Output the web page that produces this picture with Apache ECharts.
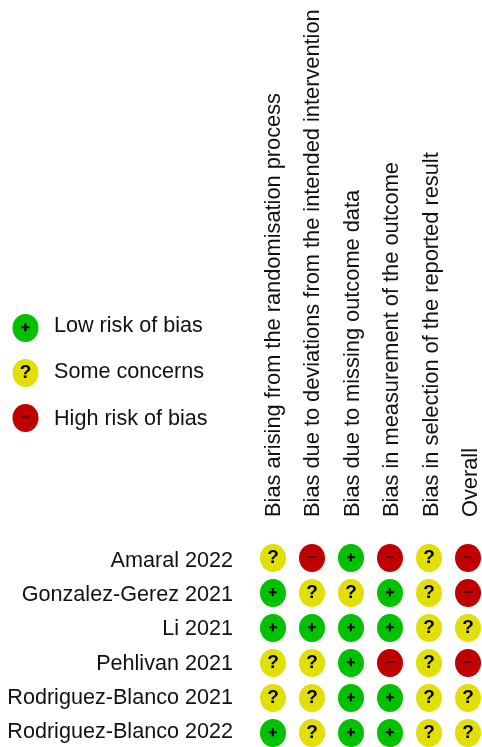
<!DOCTYPE html>
<html><head><meta charset="utf-8">
<style>html,body{margin:0;padding:0;background:#fff}#c{width:482px;height:747px}</style>
<script src="https://cdn.jsdelivr.net/npm/echarts@6/dist/echarts.min.js"></script>
</head><body><div id="c"></div>
<script>
const domains = ["Bias arising from the randomisation process","Bias due to deviations from the intended intervention","Bias due to missing outcome data","Bias in measurement of the outcome","Bias in selection of the reported result","Overall"];
const studies = ["Amaral 2022","Gonzalez-Gerez 2021","Li 2021","Pehlivan 2021","Rodriguez-Blanco 2021","Rodriguez-Blanco 2022"];
const amaral = ["S","H","L","H","S","H"];
const gonzalez = ["L","S","S","L","S","H"];
const li = ["L","L","L","L","S","S"];
const pehlivan = ["S","S","L","H","S","H"];
const rodriguez2021 = ["S","S","L","L","S","S"];
const rodriguez2022 = ["L","S","L","L","S","S"];
const judgements = [amaral,gonzalez,li,pehlivan,rodriguez2021,rodriguez2022];
const legendLabels = ["Low risk of bias","Some concerns","High risk of bias"];
const legendCodes = ["L","S","H"];
const colors = {L:"#02C100",S:"#E2DF07",H:"#BF0000"};
const glyphs = {L:"+",S:"?",H:"−"};
const FONT = "Liberation Sans";
const FS = 21.6;
const cells = [];
judgements.forEach((row,r)=>row.forEach((c,d)=>cells.push({value:[d,r],code:c,itemStyle:{color:colors[c],opacity:1}})));
const glyphLabel = {show:true,position:"inside",
  formatter:p=>"{"+p.data.code+"|"+glyphs[p.data.code]+"}",
  rich:{
    L:{fontFamily:FONT,fontWeight:"bold",fontSize:15,color:"#000",textBorderColor:"#000",textBorderWidth:0.5},
    S:{fontFamily:FONT,fontWeight:"bold",fontSize:19,color:"#000"},
    H:{fontFamily:FONT,fontWeight:"bold",fontSize:15,color:"#300"}
  }};
const hidden = {axisLine:{show:false},axisTick:{show:false},splitLine:{show:false}};
const text = {interval:0,fontFamily:FONT,color:"#111",hideOverlap:false,showMinLabel:true,showMaxLabel:true};
const chart = echarts.init(document.getElementById("c"),null,{renderer:"canvas"});
chart.setOption({
  animation:false,
  backgroundColor:"#fff",
  grid:[
    {left:273,width:195,top:558,height:175},   // marks
    {left:25,width:1,top:328,height:90},       // key marks
    {left:274,width:197,top:517,height:1},     // domain labels
    {left:233,width:1,top:561,height:171},     // study labels
    {left:54,width:1,top:326,height:93}        // key labels
  ],
  xAxis:[
    {gridIndex:0,type:"category",data:domains,show:false,boundaryGap:false},
    {gridIndex:1,type:"category",data:["key"],show:false,boundaryGap:false},
    {gridIndex:2,type:"category",data:domains,position:"top",boundaryGap:false,...hidden,
     axisLabel:{...text,rotate:-90,margin:0,fontSize:21.8}},
    {gridIndex:3,type:"category",data:["key"],show:false,boundaryGap:false},
    {gridIndex:4,type:"category",data:["key"],show:false,boundaryGap:false}
  ],
  yAxis:[
    {gridIndex:0,type:"category",data:studies,inverse:true,show:false,boundaryGap:false},
    {gridIndex:1,type:"category",data:legendLabels,inverse:true,show:false,boundaryGap:false},
    {gridIndex:2,type:"category",data:["key"],show:false,boundaryGap:false},
    {gridIndex:3,type:"category",data:studies,inverse:true,boundaryGap:false,...hidden,
     axisLabel:{...text,margin:0,fontSize:FS}},
    {gridIndex:4,type:"category",data:legendLabels,inverse:true,boundaryGap:false,...hidden,
     axisLabel:{...text,margin:0,align:"left",inside:true,fontSize:FS}}
  ],
  series:[
    {type:"scatter",xAxisIndex:0,yAxisIndex:0,symbol:"circle",symbolSize:[26,28],data:cells,label:glyphLabel,clip:false,silent:true},
    {type:"scatter",xAxisIndex:1,yAxisIndex:1,symbol:"circle",symbolSize:[26,28],clip:false,silent:true,label:glyphLabel,
     data:legendCodes.map((c,i)=>({value:[0,i],code:c,itemStyle:{color:colors[c],opacity:1}}))}
  ]
});
</script></body></html>
